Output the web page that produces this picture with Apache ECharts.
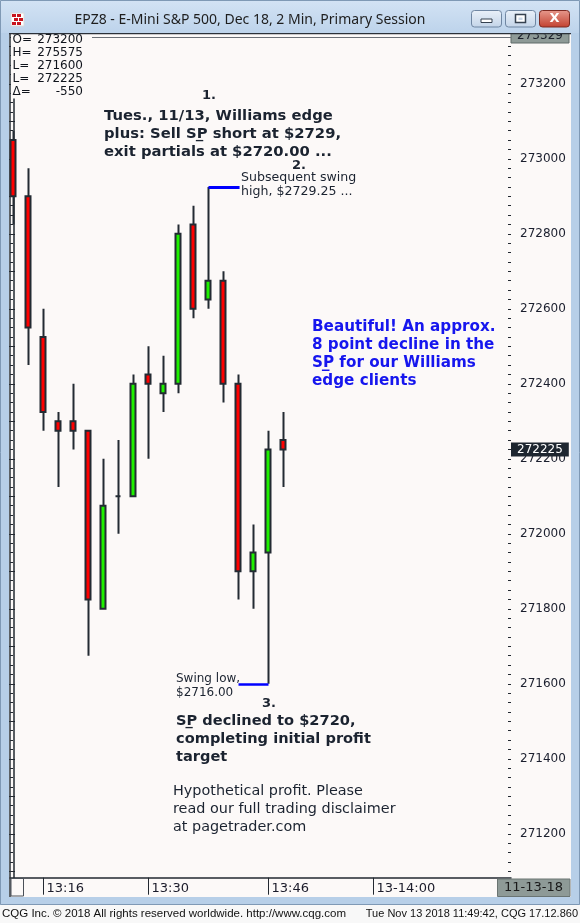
<!DOCTYPE html>
<html><head><meta charset="utf-8">
<script src="https://cdn.jsdelivr.net/npm/echarts@6/dist/echarts.min.js"></script>
<style>html,body{margin:0;padding:0;background:#fcf9f8;} #c{width:580px;height:923px;}</style>
</head><body><div id="c"></div>
<script>
// ---- data ----
const times  = ['13:12','13:14','13:16','13:18','13:20','13:22','13:24','13:26','13:28','13:30','13:32','13:34','13:36','13:38','13:40','13:42','13:44','13:46','13:48'];
const opens  = [273050,272900,272525,272300,272300,272275,271800,272100,272100,272425,272375,272400,272825,272625,272675,272400,271900,271950,272250];
const closes = [272900,272550,272325,272275,272275,271825,272075,272100,272400,272400,272400,272800,272600,272675,272400,271900,271950,272225,272225];
const lows   = [272825,272450,272275,272125,272225,271675,271800,272000,272100,272200,272325,272375,272575,272600,272350,271825,271800,271600,272125];
const highs  = [273075,272975,272600,272325,272400,272275,272200,272250,272425,272500,272475,272825,272875,272925,272700,272425,272025,272275,272325];
const swingHighTime = '13:38';
const swingLowTime  = '13:46';
const xTickIdx    = [2, 9, 17, 24];
const xTickLabels = ['13:16','13:30','13:46','13-14:00'];
const yLabelValues = [271200,271400,271600,271800,272000,272200,272400,272600,272800,273000,273200];
const headerLabels = ['O=','H=','L=','L=','\u0394='];
const headerValues = ['273200','275575','271600','272225','-550'];

// ---- derived ----
const yMin = 271083, yMax = 273334;
const xMin = -0.2333, xMax = 33.1667;
const yMajorTicks = []; for (let v = 271100; v <= yMax; v += 100) yMajorTicks.push(v);
const yMinorTicks = []; for (let v = 271100; v <= yMax; v += 25) yMinorTicks.push(v);
const candles = times.map((t, i) => [i, opens[i], closes[i], lows[i], highs[i]]);
const hiIdx = times.indexOf(swingHighTime);
const loIdx = times.indexOf(swingLowTime);
const lastClose = closes[closes.length - 1];

const DARK = '#1b2330';
const axisCol = '#222830';
const F = 'DejaVu Sans';

function txt(x, y, text, opt) {
  opt = opt || {};
  return { type: 'text', z: 50, silent: true, style: {
    x: x, y: y, text: text, fill: opt.fill || DARK,
    font: (opt.weight || 'normal') + ' ' + (opt.size || 12) + 'px "' + (opt.family || F) + '"',
    lineHeight: opt.lh || undefined,
    textAlign: opt.align || 'left', textVerticalAlign: opt.va || 'top'
  }};
}

const chrome = [];
// title bar + frame
chrome.push({ type: 'rect', z: 100, silent: true, shape: {x:0,y:0,width:580,height:33},
  style: { fill: new echarts.graphic.LinearGradient(0,0,0,1,[{offset:0,color:'#d3e3f4'},{offset:1,color:'#bdd3eb'}]) } });
chrome.push({ type: 'rect', z: 100, silent: true, shape: {x:0,y:33,width:9,height:872}, style: { fill: '#b7cfe8' } });
chrome.push({ type: 'rect', z: 100, silent: true, shape: {x:571,y:33,width:9,height:872}, style: { fill: '#b7cfe8' } });
chrome.push({ type: 'rect', z: 100, silent: true, shape: {x:0,y:897,width:580,height:8}, style: { fill: '#b7cfe8' } });
chrome.push({ type: 'rect', z: 100, silent: true, shape: {x:0,y:905,width:580,height:18}, style: { fill: '#f8f8f8' } });
chrome.push({ type: 'rect', z: 100, silent: true, shape: {x:0.5,y:0.5,width:579,height:904}, style: { fill: null, stroke: '#7f99b5', lineWidth: 1 } });
// icon
chrome.push({ type: 'rect', z: 101, silent: true, shape: {x:11,y:13,width:13,height:13}, style: { fill: '#ffffff', stroke: '#d8d8d8' } });
[[12,14],[17,14],[14,18],[19,18],[12,22],[17,22]].forEach(p => chrome.push({ type: 'rect', z: 102, silent: true, shape: {x:p[0],y:p[1],width:4,height:3}, style: { fill: '#c8141e' } }));
// title text
chrome.push(Object.assign(txt(250, 20, 'EPZ8 - E-Mini S&P 500, Dec 18, 2 Min, Primary Session', {size:14, family:'Noto Sans', align:'center', va:'middle', fill:'#1e1e1e'}), {z:101}));
// buttons
function btn(x, w, fillA, fillB, stroke) {
  return { type: 'rect', z: 101, silent: true, shape: {x:x,y:10.5,width:w,height:16.5,r:3},
    style: { fill: new echarts.graphic.LinearGradient(0,0,0,1,[{offset:0,color:fillA},{offset:1,color:fillB}]), stroke: stroke, lineWidth: 1 } };
}
chrome.push(btn(471.5, 30, '#eaf1f9', '#c3d4e8', '#6f86a2'));
chrome.push(btn(505.5, 30, '#eaf1f9', '#c3d4e8', '#6f86a2'));
chrome.push(btn(539.5, 30, '#e79a8e', '#c2402f', '#7d2a22'));
chrome.push({ type: 'rect', z: 102, silent: true, shape: {x:481,y:19,width:11,height:3.5}, style: { fill: '#ffffff', stroke: '#35414f', lineWidth: 1 } });
chrome.push({ type: 'rect', z: 102, silent: true, shape: {x:515.5,y:14.5,width:10,height:8}, style: { fill: '#ffffff', stroke: '#35414f', lineWidth: 1.5 } });
chrome.push({ type: 'rect', z: 103, silent: true, shape: {x:518.5,y:17.5,width:4,height:2.5}, style: { fill: '#c8d6e6' } });
chrome.push(Object.assign(txt(554.5, 19, 'X', {size:13, weight:'bold', align:'center', va:'middle', fill:'#ffffff'}), {z:102}));
// plot frame lines
chrome.push({ type: 'line', z: 60, silent: true, shape: {x1:9,y1:33.5,x2:571,y2:33.5}, style: { stroke: '#2a3038', lineWidth: 1.5 } });
chrome.push({ type: 'line', z: 60, silent: true, shape: {x1:92,y1:37.5,x2:511,y2:37.5}, style: { stroke: '#6a6f76', lineWidth: 1 } });
chrome.push({ type: 'line', z: 60, silent: true, shape: {x1:10,y1:33,x2:10,y2:897}, style: { stroke: '#2a3038', lineWidth: 1.5 } });
// header background (hides axis ticks behind the OHLC readout)
chrome.push({ type: 'rect', z: 40, silent: true, shape: {x:11,y:34.5,width:75,height:64}, style: { fill: '#fcf9f8' } });
// top-right clipped price box
chrome.push({ type: 'rect', z: 55, silent: true, shape: {x:511,y:33,width:58,height:10}, style: { fill: '#8e9a97', stroke: '#5f6a68' } });
chrome.push(Object.assign(txt(540, 35.5, '273329', {size:12, align:'center', va:'middle', fill:'#1a1f2a'}), {z:56}));
// bottom strip elements
chrome.push({ type: 'rect', z: 60, silent: true, shape: {x:11,y:878.5,width:12.5,height:17.5}, style: { fill: null, stroke: '#4a5058', lineWidth: 1 } });
chrome.push({ type: 'rect', z: 60, silent: true, shape: {x:497.5,y:879,width:72.5,height:17.5}, style: { fill: '#8e9a97', stroke: '#6a7472' } });
chrome.push(Object.assign(txt(533.5, 887.5, '11-13-18', {size:13, align:'center', va:'middle', fill:'#1a1a1a'}), {z:61}));
// status bar text
chrome.push(Object.assign(txt(2, 914, 'CQG Inc. \u00a9 2018 All rights reserved worldwide. http://www.cqg.com', {size:11.5, family:'Liberation Sans', va:'middle', fill:'#111'}), {z:101}));
chrome.push(Object.assign(txt(578, 914, 'Tue Nov 13 2018 11:49:42, CQG 17.12.860', {size:11, family:'Liberation Sans', va:'middle', align:'right', fill:'#111'}), {z:101}));

// header OHLC
headerLabels.forEach((l, i) => {
  chrome.push(txt(12.5, 40 + i * 13, l, {size:12, va:'middle', fill:'#10141c'}));
  chrome.push(txt(83, 40 + i * 13, headerValues[i], {size:12, va:'middle', align:'right', fill:'#10141c'}));
});

// annotations
const U = '\u0332';
chrome.push(txt(209, 96, '1.', {size:13, weight:'bold', align:'center', va:'middle'}));
chrome.push(txt(104, 107, 'Tues., 11/13, Williams edge\nplus: Sell SP' + U + ' short at $2729,\nexit partials at $2720.00 ...', {size:14.8, weight:'bold', lh:18}));
chrome.push(txt(299, 166, '2.', {size:13, weight:'bold', align:'center', va:'middle'}));
chrome.push(txt(241, 171, 'Subsequent swing\nhigh, $2729.25 ...', {size:12.6, lh:14}));
chrome.push(txt(312, 318, 'Beautiful! An approx.\n8 point decline in the\nSP' + U + ' for our Williams\nedge clients', {size:15.2, weight:'bold', lh:18, fill:'#1616ee'}));
chrome.push(txt(176, 672, 'Swing low,\n$2716.00', {size:12, lh:14}));
chrome.push(txt(269, 704, '3.', {size:13, weight:'bold', align:'center', va:'middle'}));
chrome.push(txt(176, 712, 'SP' + U + ' declined to $2720,\ncompleting initial profit\ntarget', {size:14.6, weight:'bold', lh:18}));
chrome.push(txt(173, 782, 'Hypothetical profit. Please\nread our full trading disclaimer\nat pagetrader.com', {size:14.4, lh:18}));

const yBase = { type: 'value', min: yMin, max: yMax, scale: true, splitLine: { show: false }, axisLabel: { show: false } };
const tickLine = { color: axisCol, width: 1 };

const option = {
  animation: false,
  backgroundColor: '#fcf9f8',
  grid: { left: 10, right: 69, top: 33.5, bottom: 45.3, containLabel: false, outerBoundsMode: 'none' },
  xAxis: {
    type: 'value', min: xMin, max: xMax, splitLine: { show: false },
    axisLine: { show: true, onZero: false, lineStyle: { color: axisCol, width: 1.5 } },
    axisTick: { show: true, customValues: xTickIdx, length: 17, lineStyle: tickLine },
    axisLabel: { customValues: xTickIdx, formatter: v => xTickLabels[xTickIdx.indexOf(v)] || '',
      align: 'left', padding: [0,0,0,3], margin: 4, color: '#1b1b2a', fontFamily: F, fontSize: 13 }
  },
  yAxis: [
    Object.assign({}, yBase, { position: 'right',
      axisLine: { show: true, lineStyle: { color: axisCol, width: 1.5 } },
      axisTick: { show: true, inside: true, length: 5.5, customValues: yMajorTicks, lineStyle: tickLine },
      axisLabel: { show: true, customValues: yLabelValues, margin: 9, color: '#1b1f2e', fontFamily: F, fontSize: 12, formatter: v => String(v) } }),
    Object.assign({}, yBase, { position: 'right', axisLine: { show: false },
      axisTick: { show: true, inside: true, length: 3, customValues: yMinorTicks, lineStyle: tickLine } }),
    Object.assign({}, yBase, { position: 'left', axisLine: { show: false },
      axisTick: { show: true, inside: true, length: 5, customValues: yMajorTicks, lineStyle: tickLine } }),
    Object.assign({}, yBase, { position: 'left', axisLine: { show: false },
      axisTick: { show: true, inside: true, length: 3, customValues: yMinorTicks, lineStyle: tickLine } })
  ],
  graphic: { elements: chrome },
  series: [{
    type: 'candlestick',
    xAxisIndex: 0, yAxisIndex: 0,
    data: candles,
    barWidth: 5.5,
    itemStyle: { color: '#1ff000', color0: '#ff0000', borderColor: '#232b33', borderColor0: '#232b33', borderWidth: 2 },
    emphasis: { disabled: true },
    markLine: {
      silent: true, animation: false, symbol: ['none', 'none'],
      data: [
        [ { coord: [hiIdx, highs[hiIdx]], lineStyle: { color: '#0000ff', width: 3, type: 'solid' }, label: { show: false } },
          { coord: [hiIdx + 2.07, highs[hiIdx]] } ],
        [ { coord: [loIdx - 2.0, lows[loIdx]], lineStyle: { color: '#0000ff', width: 2.5, type: 'solid' }, label: { show: false } },
          { coord: [loIdx, lows[loIdx]] } ],
        { yAxis: lastClose, lineStyle: { color: 'rgba(0,0,0,0)', width: 0 },
          label: { show: true, position: 'end', distance: 0, formatter: p => String(p.value),
            backgroundColor: '#1e2630', color: '#ffffff', padding: [1, 6, 0, 6], lineHeight: 13, fontFamily: F, fontSize: 12 } }
      ]
    }
  }]
};
const chart = echarts.init(document.getElementById('c'), null, { renderer: 'canvas' });
chart.setOption(option);
</script></body></html>
